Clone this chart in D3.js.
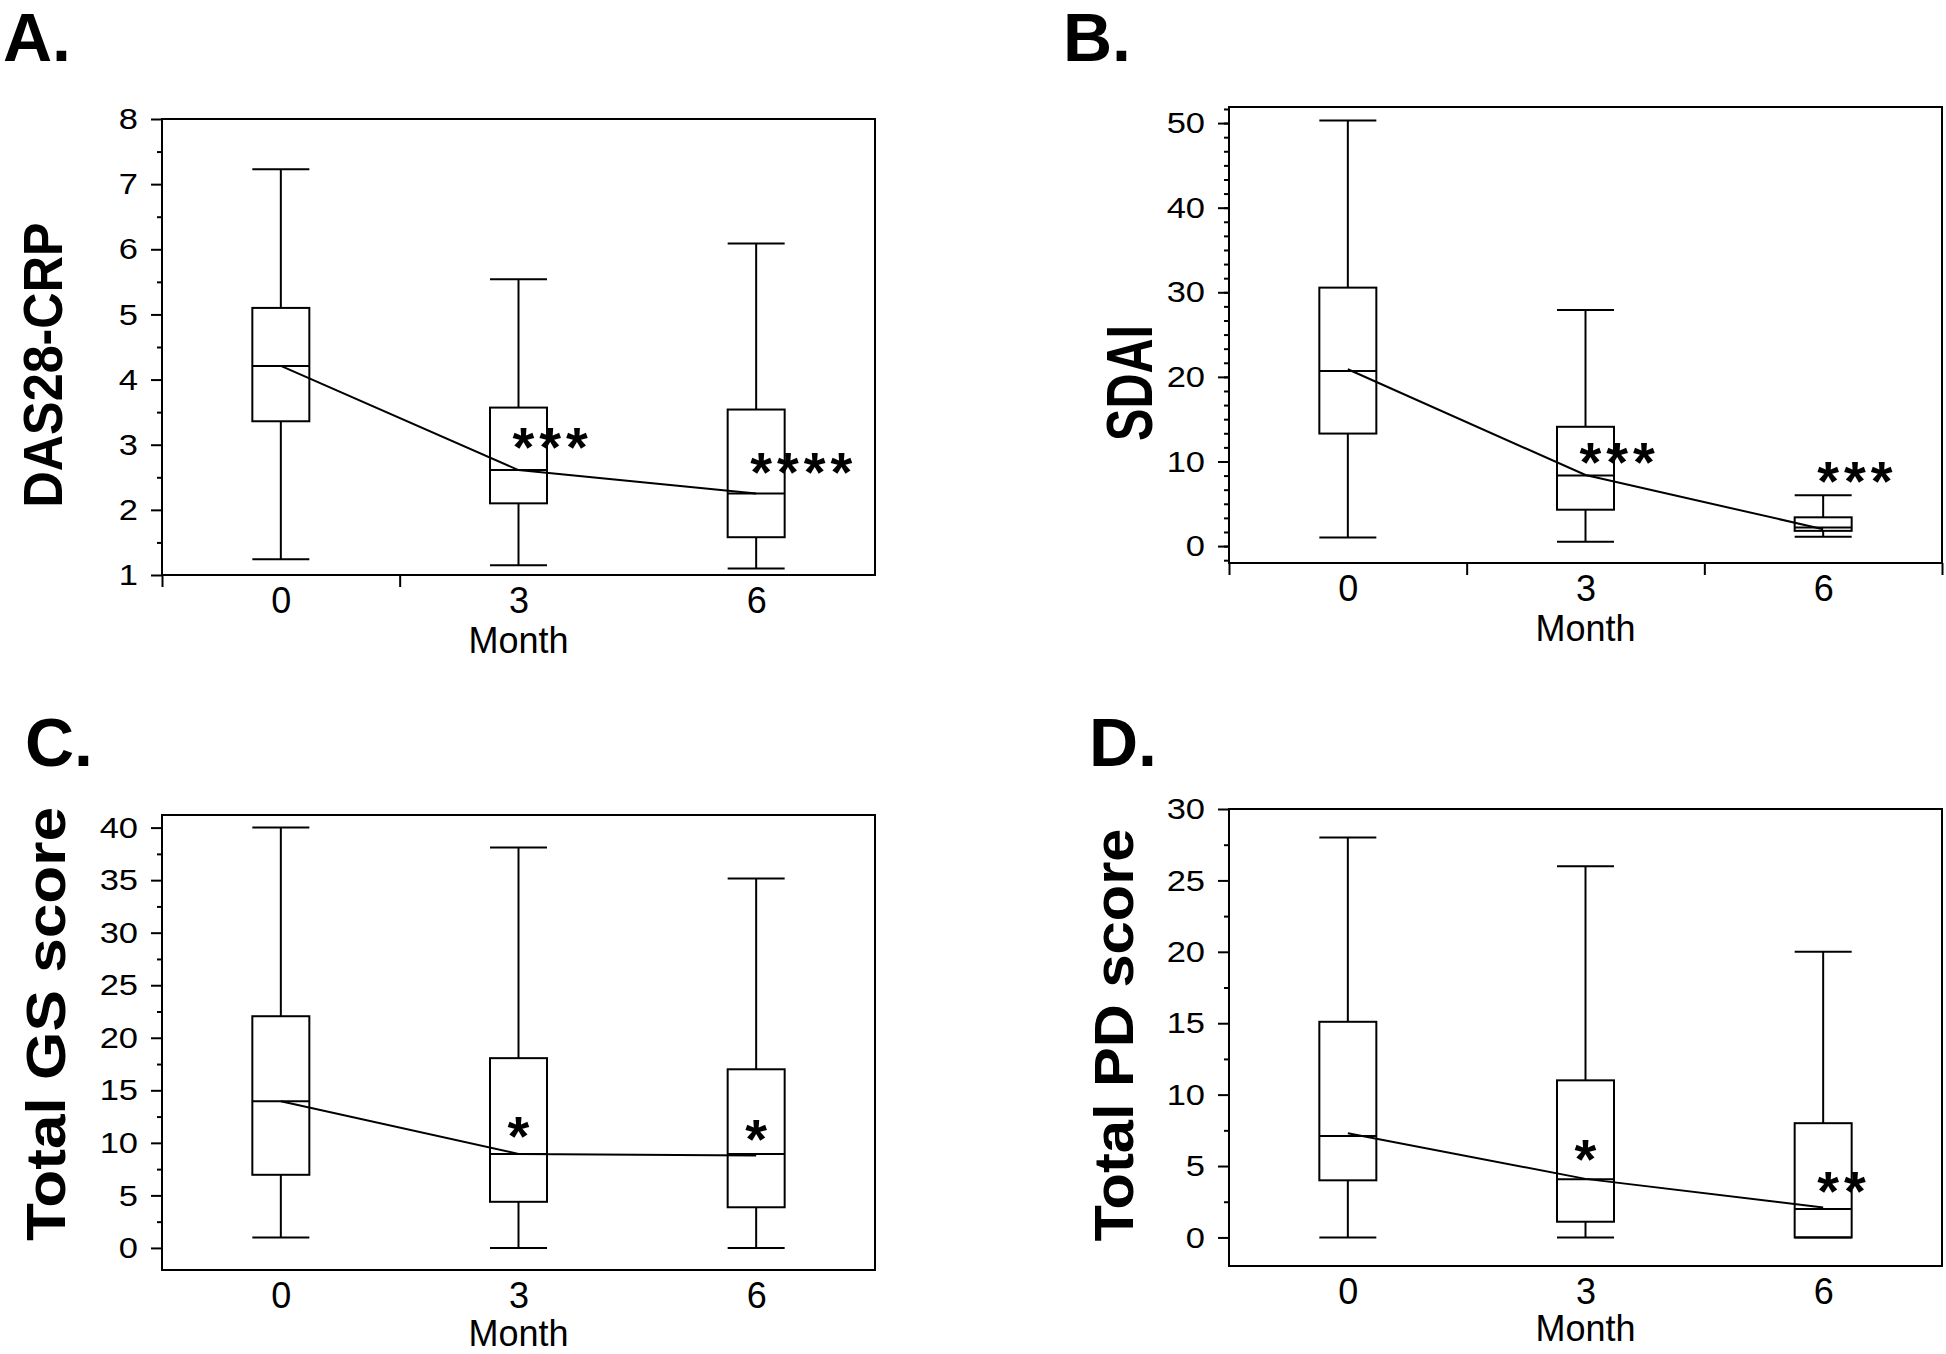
<!DOCTYPE html>
<html>
<head>
<meta charset="utf-8">
<script src="https://cdnjs.cloudflare.com/ajax/libs/d3/7.8.5/d3.min.js"></script>
<style>
body { margin: 0; background: #fff; }
svg { display: block; }
text { font-family: "Liberation Sans", Arial, Helvetica, sans-serif; fill: #000; }
</style>
</head>
<body>
<svg></svg>
<script>
// months on the x axis
var months = [0, 3, 6];
var letters = ["A.", "B.", "C.", "D."];
var titles = ["DAS28-CRP", "SDAI", "Total GS score", "Total PD score"];

// A. DAS28-CRP
var dasLow = [1.24, 1.15, 1.10];
var dasQ1 = [3.36, 2.10, 1.58];
var dasMed = [4.21, 2.61, 2.25];
var dasQ3 = [5.10, 3.57, 3.54];
var dasHigh = [7.23, 5.54, 6.09];
var dasTrend = [4.21, 2.61, 2.25];
var dasStars = ["", "***", "****"];
var dasStarAt = [0, 3.03, 2.64];

// B. SDAI
var sdaiLow = [1.0, 0.5, 1.1];
var sdaiQ1 = [13.3, 4.3, 1.8];
var sdaiMed = [20.7, 8.35, 2.2];
var sdaiQ3 = [30.55, 14.1, 3.4];
var sdaiHigh = [50.3, 27.9, 6.0];
var sdaiTrend = [20.9, 8.4, 2.0];
var sdaiStars = ["", "***", "***"];
var sdaiStarAt = [0, 10.4, 8.2];

// C. Total GS score
var gsLow = [1.0, 0, 0];
var gsQ1 = [6.96, 4.39, 3.87];
var gsMed = [13.95, 8.95, 8.95];
var gsQ3 = [22.05, 18.06, 17.0];
var gsHigh = [40, 38.1, 35.15];
var gsTrend = [13.95, 8.95, 8.8];
var gsStars = ["", "*", "*"];
var gsStarAt = [0, 11.0, 10.75];

// D. Total PD score
var pdLow = [0, 0, 0];
var pdQ1 = [4.0, 1.1, 0];
var pdMed = [7.1, 4.07, 2.0];
var pdQ3 = [15.1, 11.0, 8.0];
var pdHigh = [28, 26, 20];
var pdTrend = [7.3, 4.1, 2.1];
var pdStars = ["", "*", "**"];
var pdStarAt = [0, 5.8, 3.5];

// y axis ranges and ticks
var yDomains = [[1, 8], [-2, 51.9], [-2.1, 41.2], [-2, 30]];
var yMajor = [d3.range(1, 8.01, 1), d3.range(0, 50.01, 10), d3.range(0, 40.01, 5), d3.range(0, 30.01, 5)];
var yMinor = [d3.range(1.5, 8, 1), d3.range(-5/3, 52, 10/6), d3.range(2.5, 40, 5), d3.range(2.5, 30, 5)];
var xMarks = [[-1.5, 1.5], [-1.5, 1.5, 4.5, 7.5], [], []];

var panels = [
  {low: dasLow, q1: dasQ1, med: dasMed, q3: dasQ3, high: dasHigh, trend: dasTrend, stars: dasStars, starAt: dasStarAt},
  {low: sdaiLow, q1: sdaiQ1, med: sdaiMed, q3: sdaiQ3, high: sdaiHigh, trend: sdaiTrend, stars: sdaiStars, starAt: sdaiStarAt},
  {low: gsLow, q1: gsQ1, med: gsMed, q3: gsQ3, high: gsHigh, trend: gsTrend, stars: gsStars, starAt: gsStarAt},
  {low: pdLow, q1: pdQ1, med: pdMed, q3: pdQ3, high: pdHigh, trend: pdTrend, stars: pdStars, starAt: pdStarAt}
];

// page layout
var layout = [
  {left: 162, right: 875, top: 119, bottom: 575, lx: 3, ly: 61, tx: 62, ty: 365, tfs: 56, tlen: 285, my: 78},
  {left: 1229, right: 1942, top: 107, bottom: 563, lx: 1063, ly: 61, tx: 1152, ty: 383, tfs: 64, tlen: 116, my: 78},
  {left: 162, right: 875, top: 815, bottom: 1270, lx: 25, ly: 766, tx: 65, ty: 1024, tfs: 56, tlen: 434, my: 76},
  {left: 1229, right: 1942, top: 809, bottom: 1266, lx: 1089, ly: 766, tx: 1133, ty: 1035, tfs: 56, tlen: 413, my: 75}
];

var svgWidth = 1946, svgHeight = 1354;
var boxW = 57, sx = 1.15;

var svg = d3.select("svg")
    .attr("width", svgWidth)
    .attr("height", svgHeight);

panels.forEach(function(p, k) {
  var L = layout[k];
  var g = svg.append("g");

  var x = d3.scaleLinear().domain([-1.5, 7.5]).range([L.left, L.right]);
  var y = d3.scaleLinear().domain(yDomains[k]).range([L.bottom, L.top]);

  // panel letter
  g.append("text")
      .attr("x", L.lx).attr("y", L.ly)
      .attr("font-size", 68).attr("font-weight", "bold")
      .text(letters[k]);

  // y title
  g.append("text")
      .attr("transform", "translate(" + L.tx + "," + L.ty + ") rotate(-90)")
      .attr("text-anchor", "middle")
      .attr("font-size", L.tfs).attr("font-weight", "bold")
      .attr("textLength", L.tlen).attr("lengthAdjust", "spacingAndGlyphs")
      .text(titles[k]);

  // minor y ticks
  g.append("g")
      .attr("transform", "translate(" + L.left + ",0)")
      .call(d3.axisLeft(y).tickValues(yMinor[k]).tickSize(5).tickFormat(""))
      .call(function(a) { a.select(".domain").remove(); a.selectAll("line").attr("stroke-width", 2); });

  // major y ticks + labels
  var ya = g.append("g")
      .attr("transform", "translate(" + L.left + ",0)")
      .call(d3.axisLeft(y).tickValues(yMajor[k]).tickSize(11).tickPadding(14).tickFormat(d3.format("d")));
  ya.select(".domain").remove();
  ya.selectAll("line").attr("stroke-width", 2);
  ya.selectAll("text")
      .attr("font-size", 30)
      .attr("font-family", null)
      .attr("x", -24 / sx)
      .attr("transform", "scale(" + sx + ",1)");

  // x ticks (unlabelled marks)
  var xt = g.append("g")
      .attr("transform", "translate(0," + L.bottom + ")")
      .call(d3.axisBottom(x).tickValues(xMarks[k]).tickSize(12).tickFormat(""));
  xt.select(".domain").remove();
  xt.selectAll("line").attr("stroke-width", 2);

  // month labels
  var xa = g.append("g")
      .attr("transform", "translate(0," + L.bottom + ")")
      .call(d3.axisBottom(x).tickValues(months).tickSize(0).tickPadding(12));
  xa.select(".domain").remove();
  xa.selectAll("text").attr("font-size", 36).attr("font-family", null);

  g.append("text")
      .attr("x", x(3)).attr("y", L.bottom + L.my)
      .attr("text-anchor", "middle")
      .attr("font-size", 36)
      .text("Month");

  // frame
  g.append("rect")
      .attr("x", L.left).attr("y", L.top)
      .attr("width", L.right - L.left).attr("height", L.bottom - L.top)
      .attr("fill", "none").attr("stroke", "#000").attr("stroke-width", 2);

  // boxes
  months.forEach(function(m, i) {
    var cx = x(m);
    var bg = g.append("g").attr("stroke", "#000").attr("stroke-width", 2).attr("fill", "none");
    bg.append("line").attr("x1", cx).attr("x2", cx).attr("y1", y(p.low[i])).attr("y2", y(p.q1[i]));
    bg.append("line").attr("x1", cx).attr("x2", cx).attr("y1", y(p.q3[i])).attr("y2", y(p.high[i]));
    bg.append("line").attr("x1", cx - boxW / 2).attr("x2", cx + boxW / 2).attr("y1", y(p.low[i])).attr("y2", y(p.low[i]));
    bg.append("line").attr("x1", cx - boxW / 2).attr("x2", cx + boxW / 2).attr("y1", y(p.high[i])).attr("y2", y(p.high[i]));
    bg.append("rect")
        .attr("x", cx - boxW / 2).attr("y", y(p.q3[i]))
        .attr("width", boxW).attr("height", y(p.q1[i]) - y(p.q3[i]));
    bg.append("line").attr("x1", cx - boxW / 2).attr("x2", cx + boxW / 2).attr("y1", y(p.med[i])).attr("y2", y(p.med[i]));
  });

  // trend line
  var line = d3.line()
      .x(function(d, i) { return x(months[i]); })
      .y(function(d) { return y(d); });
  g.append("path")
      .attr("d", line(p.trend))
      .attr("fill", "none").attr("stroke", "#000").attr("stroke-width", 2);

  // significance stars
  months.forEach(function(m, i) {
    if (!p.stars[i]) return;
    var fs = 56;
    var single = p.stars[i].length === 1;
    g.append("text")
        .attr("x", single ? x(m) : x(m) - 6)
        .attr("y", y(p.starAt[i]) + 23)
        .attr("text-anchor", single ? "middle" : "start")
        .attr("font-size", fs).attr("font-weight", "bold")
        .attr("letter-spacing", single ? 0 : 5)
        .text(p.stars[i]);
  });
});
</script>
</body>
</html>
